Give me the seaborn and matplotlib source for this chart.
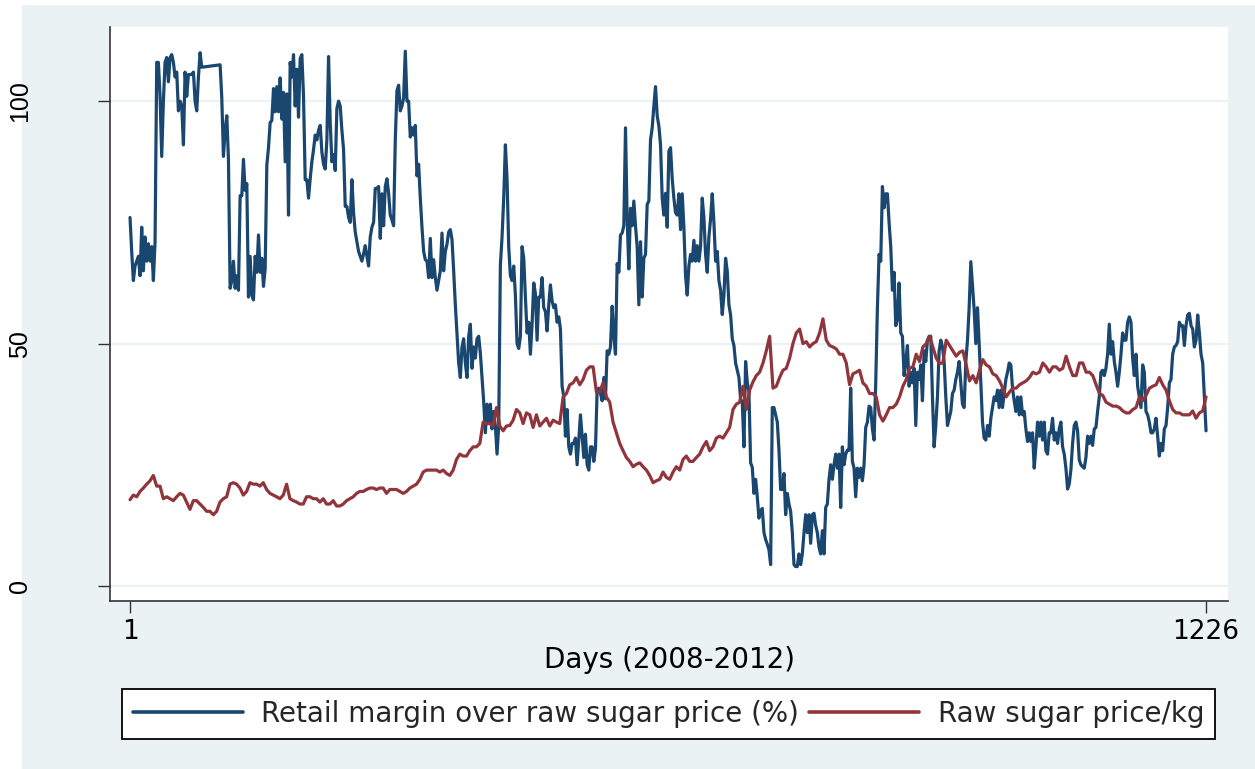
import numpy as np
import pandas as pd
import matplotlib
matplotlib.use("Agg")
import matplotlib.pyplot as plt
from matplotlib.patches import Rectangle
import seaborn as sns

# Retail margin over raw sugar price (%), sampled evenly across days 1..1226
# (nan marks days without observations; the line simply bridges them)
nan = np.nan
margin_pct = [
    76, 69, 63, 66, 67, 68, 64, 74, 65, 72,
    67, 70.6, 67, 70, 63, 71, 108, 108, 101, 88.6,
    100, 108, 109, 104, 109, 109.6, 108, 105, 106, 98,
    100, 99, 91, 106, 101, 105.5, 105.5, 105.5, 106, 100,
    98, 105, 110, 107,
    nan, nan, nan, nan, nan, nan, nan, nan, nan, nan,
    107.5, 100.7, 88.6, 94, 97, 88, 61.4, 63, 67, 61.4,
    64, 61, 80.5, 80.5, 88, 81.6, 83, 59.6, 68, 60,
    59, 68, 64.7, 72.4, 64.7, 67.6, 61.8, 65.4, 86.8, 90.4,
    95.6, 96, 102.6, 97.8, 103, 97.8, 104.8, 96.3, 101.8, 87.5,
    101.5, 76.5, 108, 105, 109.6, 99, 106.6, 96.7, 108.8, 109.6,
    101, 83.8,
    83.8, 80, 84, 87.5, 90, 93, 92, 94, 95, 89.5,
    87, 86, 92, 109.2, 95.6, 87.5, 89, 85.7, 98.5, 100,
    99, 94, 90, 78.3, 78.3, 76, 75, 83.8, 77, 73,
    71, 69, 68, 67, 68.5, 70.2, 68, 66, 72, 74,
    75, 82, 82, 82.4, 71.7, 80.9, 74.3, 82.4, 84, 81,
    76.5, 75.5, 74.3, 92, 102.2, 103.3, 98, 99, 100.7, 110.3,
    100, 100, 92.6, 94.5, 93, 95, 84.6, 87, 80, 74,
    69, 67.3, 67, 63.6, 71.7, 63.6, 67.3, 63.6, 61, 63,
    65, 72.8, 65, 69, 70.5, 73, 73.5, 71.5, 65, 58,
    52, 46, 43, 49.3, 51, 46, 43, 51.5, 54, 44.9,
    49.3, 47, 51, 51.5, 48, 43, 38, 31.6,
    37.5, 33.5, 37.5, 32.4, 36, 33, 27.2, 33, 66.2, 72,
    80, 91, 84, 70, 64, 63, 66, 60, 50, 49,
    51.5, 70, 67.6, 59.6, 52.2, 54.4, 47.8, 54, 62.5, 60.3,
    50.7, 59.6, 59.6, 63.6, 57.4, 56.6, 52.6, 58, 62.1, 58.8,
    57.4, 58, 54.4, 55.5, 53, 41.2, 39, 30.9, 36.4, 28.7,
    27.2, 29.4, 29.4, 30.5, 25, 30, 35.3, 30.9, 26.5, 31.3,
    25, 23.9, 28.7, 28.7, 25.7, 28.3, 40.4, 40.8, 39.7, 38.2,
    43, 38.6, 48.5, 47.8, 49.3, 57.7, 51.5, 47.8, 66.5, 64.7,
    72.4, 72.8, 74.3, 94.5, 75.7, 65.4, 77.9, 74.3, 79.4, 74.3,
    69.9, 58, 71, 59.6, 67.6, 68.4, 78.7, 79.4, 92, 94.5,
    99, 103, 97, 94.9, 91, 80, 76.5, 81,
    74, 89.7, 90.4, 84, 80, 77, 76.5, 80.9, 73.5, 80.9,
    74, 64, 60, 66, 68.4, 67, 71.3, 67, 70.2, 67,
    70, 80, 76, 68.4, 64.7, 72, 75.7, 80.9, 75, 67,
    69, 63, 61, 56, 60, 67.6, 65, 58, 55.9, 51,
    49.6, 46, 44.5, 43, 38.5, 38, 28.7, 46.3, 42, 40,
    25.4, 24.5, 19.1, 22, 18.4, 14, 15.4, 16, 11, 9.6,
    8.6, 7.5, 4.4, 36.8, 36.8, 35.3, 33.8, 28, 19.9, 19.9,
    23.2, 14.7, 19.1, 16.9, 15.4, 11, 4.4, 4, 4, 6.6,
    4.4, 6.6, 11, 14.7, 11, 14.7, 8.8, 14.7, 15, 12.5,
    11, 8, 6.6, 11.4, 6.6, 16.2, 16.9, 22, 25, 22,
    25, 27.2, 24.3, 27.2, 16.2, 28.7, 25, 27.2,
    28, 28, 40.8, 25.7, 24.3, 18.4, 24.3, 22.4, 24.3, 21.7,
    25, 32.7, 33.8, 37.1, 36.8, 32.4, 30.1, 41.9, 57.4, 68.4,
    67, 82.4, 78, 80.9, 80.9, 75, 70, 61, 64.7, 53.7,
    55, 62.5, 52.2, 51.5, 43.4, 46.3, 49.6, 41.2, 44.1, 41.9,
    44.9, 33.1, 44.1, 42.6, 45.6, 38.2, 48.5, 46.3, 50.7, 51.5,
    51.5, 39, 28.7, 33.1, 39, 48.5, 50.7, 49.3, 46.3, 39,
    33.1, 34.6, 36, 39.7, 40.4, 42.6, 44.1, 46.3, 41.9, 37.5,
    36.8, 46.3, 50.7, 57.4, 66.9, 62, 57, 50, 57.4, 50,
    41.9, 33.8, 30.5, 30.1, 33.1, 30.9, 34.6, 36.8, 39, 38.2,
    40.4, 36.8, 40.4, 36.8, 39.7, 42.6, 44.1, 46, 45.6, 40.8,
    38.2, 36, 39, 35.3, 39, 35.3, 36, 32.4,
    29.8, 31.6, 29.8, 31.6, 24.3, 28.7, 33.8, 30.9, 33.8, 30.1,
    33.8, 27.9, 27.2, 31.6, 31.6, 34.6, 30.1, 31.6, 29.4, 32.4,
    33.8, 28.7, 27.2, 24.3, 20, 21, 24, 29.4, 33.1, 33.8,
    32, 26, 25, 24.6, 24.3, 26.5, 30.9, 29.4, 30.9, 29,
    32.4, 32.7, 36, 39, 44.1, 44.5, 43.4, 44.9, 47.8, 54,
    47.8, 50.4, 46.3, 44.1, 41.2, 44.1, 47.8, 52.2, 50.7, 50.7,
    54.4, 55.5, 54.4, 47, 43.4, 47.8, 41.2, 39, 36.8, 45.6,
    44.1, 36, 35.3, 33.8, 31.6, 31.6, 32.4, 34.6, 30.9, 26.8,
    29.4, 27.9, 32.4, 33.1, 36.8, 41.9, 42.6, 47.8, 49.3, 49.6,
    50.4, 54.4, 53.7, 53.7, 49.6, 53.7, 55.9, 56.25, 53.7, 53,
    49.3, 50.7, 55.9, 52.2, 47.8, 46, 39, 32,
]

# Raw sugar price per kg, sampled evenly across days 1..1226
raw_price = [
    17.8, 18.75, 18.4, 19.5, 20.2, 21, 21.7, 22.8, 20.6, 20.6,
    18, 18.4, 18, 17.6, 18.4, 19.1, 18.75, 17.3, 15.8, 17.6,
    17.6, 16.9, 16.2, 15.4, 15.4, 14.7, 15.4, 17.3, 18, 18.4,
    21, 21.3, 21, 20.2, 18.75, 19.5, 21.3, 21, 21, 20.6,
    21.3, 19.9, 19.1, 18.75, 18.4, 18, 18.75, 21, 18, 17.6,
    17.3, 16.9, 16.9,
    18.4, 18.4, 18, 18, 17.3, 18, 16.9, 16.9, 17.6, 16.5,
    16.5, 16.9, 17.6, 18, 18.4, 19.1, 19.5, 19.5, 19.9, 20.2,
    20.2, 19.9, 20.2, 20.2, 19.1, 19.9, 19.9, 19.9, 19.5, 19.1,
    19.5, 20.2, 20.6, 21, 22, 23.5, 23.9, 23.9, 23.9, 23.9,
    23.5, 23.9, 23.2, 22.8, 23.9, 26.1, 27.2, 26.8, 26.8, 27.9,
    28.7, 28.7, 29.4, 33.8,
    33.5, 33.5, 33, 36.8, 33, 32, 33, 33.1, 34.2, 36.4,
    35.7, 33.5, 35.7, 35.3, 32.7, 35.3, 33, 33.8, 34.6, 33,
    34.2, 33.8, 33.5, 39, 39.7, 41.5, 41.9, 43, 41.5, 42.6,
    44.5, 45.2, 45.2, 40, 40, 41.9, 39, 37.9, 33.8, 31.6,
    29.4, 27.9, 26.5, 25.7, 24.6, 25.1, 25.4, 24.6, 23.9, 22.8,
    21.3, 21.7, 22, 23.5,
    22.4, 22, 23.5, 24.6, 23.9, 26.1, 26.8, 25.7, 25.7, 26.5,
    27.2, 28.7, 29.8, 27.9, 28.7, 30.5, 30.9, 30.5, 31.6, 32.7,
    36.4, 37.5, 37.9, 41.2, 36.4, 40.4, 42.1, 43.4, 44.1, 46,
    48.5, 51.5, 40.8, 41.2, 43, 44.5, 44.9, 47, 50, 52.2,
    53, 50, 50.4, 49.3, 50, 50.4, 52.2, 55.1, 50.7, 49.6,
    49.3, 48.9, 47.8, 47.8,
    46, 41.5, 43.75, 44.1, 44.5, 41.9, 41.2, 39.7, 39.7, 39,
    35.3, 34, 35.3, 36.8, 36.8, 37.5, 39, 41.2, 42.6, 44.9,
    45.2, 47.8, 46.3, 49.3, 50, 51.5, 49.3, 47, 45.9, 46,
    50.7, 49.6, 48.5, 47.4, 48.2, 48.5, 45.6, 42.3, 43.4, 41.9,
    44.5, 46.7, 45.6, 45.2, 43.75, 43.4, 42.3, 40.8, 39, 40,
    40.8, 40.8, 41.5, 41.9,
    42.3, 43, 44.1, 43.75, 44.1, 46, 45.2, 44.1, 45.2, 45.2,
    44.5, 44.9, 47.4, 45.2, 43.4, 43.4, 46, 46, 44.1, 44.1,
    43.4, 41.5, 39.7, 39.3, 37.9, 37.5, 37.1, 37.1, 36.8, 36.1,
    35.7, 35.7, 36.4, 36.8, 39, 38.2, 39.3, 40.8, 41.2, 41.5,
    43, 41.5, 40.4, 38.2, 36.4, 35.7, 35.7, 35.3, 35.3, 35.3,
    36.1, 34.6, 35.7, 36.1, 39,
]

series_names = ["Retail margin over raw sugar price (%)", "Raw sugar price/kg"]
x_ticks = [1, 1226]
y_ticks = [0, 50, 100]
x_title = "Days (2008-2012)"

NAVY = "#1a476f"
MAROON = "#90353b"
BG = "#eaf2f3"

first_day, last_day = x_ticks
df = pd.concat([
    pd.DataFrame({"day": np.linspace(first_day, last_day, len(margin_pct)),
                  "value": margin_pct, "series": series_names[0]}),
    pd.DataFrame({"day": np.linspace(first_day, last_day, len(raw_price)),
                  "value": raw_price, "series": series_names[1]}),
], ignore_index=True).dropna()

sns.set_theme(style="white")
plt.rcParams["font.family"] = ["DejaVu Sans"]

W, H = 1255, 769
fig = plt.figure(figsize=(W / 100, H / 100), dpi=100, facecolor="white")
fig.add_artist(Rectangle((22 / W, 0), 1 - 22 / W, 1 - 5 / H, transform=fig.transFigure,
                         facecolor=BG, edgecolor="none", zorder=-5))

ax = fig.add_axes([110 / W, 1 - 601 / H, (1228 - 110) / W, (601 - 27) / H])
ax.set_facecolor("white")

sns.lineplot(data=df, x="day", y="value", hue="series", hue_order=series_names,
             palette=[NAVY, MAROON], estimator=None, sort=False, linewidth=2.3, ax=ax)
handles, labels = ax.get_legend_handles_labels()
ax.get_legend().remove()

ax.set_xlim(-21.8, 1251)
ax.set_ylim(-3.1, 115.3)
ax.set_xticks(x_ticks)
ax.set_yticks(y_ticks)
ax.set_xticklabels([str(t) for t in x_ticks])
ax.set_yticklabels([str(t) for t in y_ticks])

ax.yaxis.grid(True, color=BG, linewidth=1.6)
ax.xaxis.grid(False)
ax.set_axisbelow(True)

for side in ("top", "right"):
    ax.spines[side].set_visible(False)
for side in ("left", "bottom"):
    ax.spines[side].set_color("#333333")
    ax.spines[side].set_linewidth(1.2)

ax.tick_params(axis="both", direction="out", length=8.6, width=1.0, color="#333333",
               bottom=True, left=True)
ax.tick_params(axis="x", labelsize=19, pad=4.5, labelcolor="black")
ax.tick_params(axis="y", labelsize=18, pad=47.5, labelrotation=90, labelcolor="black")
for lab in ax.get_yticklabels():
    lab.set_fontfamily(["Liberation Sans", "DejaVu Sans"])
    lab.set_verticalalignment("center")

ax.set_ylabel("")
ax.set_xlabel(x_title, fontsize=20, color="black", va="baseline")
ax.xaxis.set_label_coords(0.5, (601 - 668) / (601 - 27))

leg = fig.legend(handles, labels, loc="center", bbox_to_anchor=(668.5 / W, 1 - 714 / H),
                 ncol=2, frameon=True, fancybox=False, edgecolor="black", facecolor="white",
                 framealpha=1, fontsize=20, handlelength=3.95, handletextpad=0.68,
                 columnspacing=0.35, borderpad=0.4)
leg.get_frame().set_linewidth(1.3)
for line in leg.get_lines():
    line.set_linewidth(2.6)

fig.savefig("out.png", dpi=100, facecolor=fig.get_facecolor())
